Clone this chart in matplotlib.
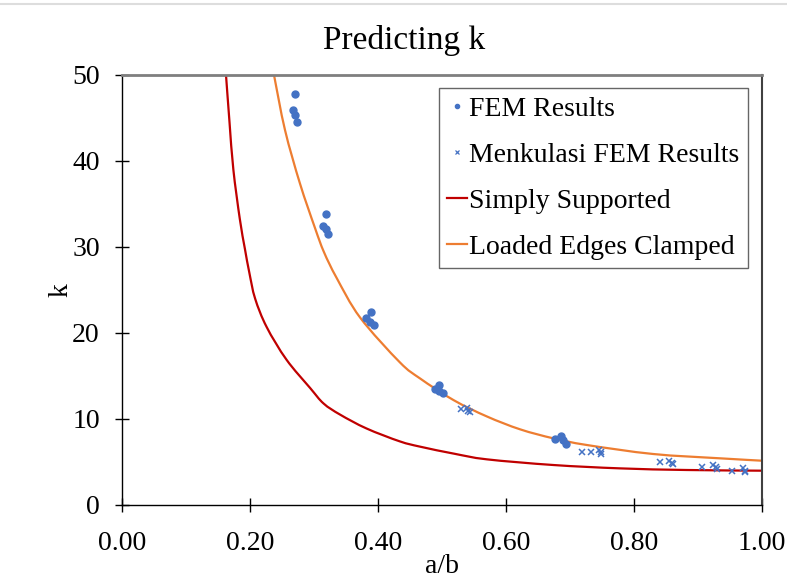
import matplotlib
matplotlib.use("Agg")
import matplotlib.pyplot as plt
from matplotlib.lines import Line2D
from matplotlib.path import Path
from matplotlib.patches import PathPatch

# ---- data ----
fem_ab = [0.271, 0.267, 0.271, 0.273,
          0.319, 0.314, 0.319, 0.322,
          0.3885, 0.382, 0.3875, 0.393,
          0.496, 0.489, 0.496, 0.501,
          0.6854, 0.6766, 0.6885, 0.694]
fem_k = [47.8, 45.9, 45.3, 44.5,
         33.8, 32.5, 32.1, 31.5,
         22.5, 21.7, 21.3, 20.9,
         13.9, 13.45, 13.2, 13.0,
         8.06, 7.67, 7.56, 7.09]

menk_ab = [0.529, 0.5396, 0.541, 0.543,
           0.7182, 0.7323, 0.7458, 0.748, 0.749,
           0.8406, 0.855, 0.859, 0.861,
           0.907, 0.924, 0.928, 0.930,
           0.9526, 0.9698, 0.9734, 0.974]
menk_k = [11.16, 11.24, 10.93, 10.8,
          6.12, 6.16, 6.4, 6.12, 5.93,
          4.96, 5.15, 4.88, 4.72,
          4.46, 4.65, 4.38, 4.23,
          3.99, 4.26, 3.99, 3.84]

ss_ab = [0.1625, 0.168, 0.174, 0.184, 0.192, 0.199, 0.208, 0.226, 0.257,
         0.294, 0.315, 0.341, 0.382, 0.434, 0.466, 0.520, 0.570, 0.674,
         0.778, 0.882, 1.0]
ss_k = [50.0, 44.5, 39.0, 33.3, 29.8, 27.0, 24.0, 20.7, 16.9,
        13.6, 11.8, 10.5, 8.9, 7.4, 6.78, 5.95, 5.31, 4.65,
        4.26, 4.07, 3.99]

cl_ab = [0.2375, 0.2547, 0.278, 0.3016, 0.3156, 0.3354, 0.372, 0.434,
         0.466, 0.518, 0.570, 0.622, 0.674, 0.726, 0.830, 0.934, 1.0]
cl_k = [50.0, 43.6, 37.4, 32.2, 29.4, 26.4, 21.8, 16.6,
        14.7, 12.2, 10.3, 8.8, 7.75, 6.98, 5.93, 5.43, 5.15]

xticks = [0.0, 0.2, 0.4, 0.6, 0.8, 1.0]
xtick_labels = ["0.00", "0.20", "0.40", "0.60", "0.80", "1.00"]
yticks = [0, 10, 20, 30, 40, 50]

BLUE = "#4472C4"
RED = "#C00000"
ORANGE = "#ED7D31"

plt.rcParams["font.family"] = ["Liberation Serif", "DejaVu Serif"]


def smooth_path(xs, ys):
    """Excel-style smoothed line: cubic Bezier segments through the points."""
    verts = [(xs[0], ys[0])]
    codes = [Path.MOVETO]
    n = len(xs)
    for i in range(n - 1):
        x0, y0 = (xs[i - 1], ys[i - 1]) if i > 0 else (xs[i], ys[i])
        x1, y1 = xs[i], ys[i]
        x2, y2 = xs[i + 1], ys[i + 1]
        x3, y3 = (xs[i + 2], ys[i + 2]) if i + 2 < n else (x2, y2)
        c1 = (x1 + (x2 - x0) / 6.0, y1 + (y2 - y0) / 6.0)
        c2 = (x2 - (x3 - x1) / 6.0, y2 - (y3 - y1) / 6.0)
        verts += [c1, c2, (x2, y2)]
        codes += [Path.CURVE4] * 3
    return Path(verts, codes)


fig = plt.figure(figsize=(7.87, 5.78), dpi=100)
ax = fig.add_axes([122 / 787, 1 - 505 / 578, 640 / 787, 430 / 578])

ax.add_patch(PathPatch(smooth_path(ss_ab, ss_k), fill=False, edgecolor=RED,
                       lw=1.6, zorder=2, transform=ax.transData))
ax.add_patch(PathPatch(smooth_path(cl_ab, cl_k), fill=False, edgecolor=ORANGE,
                       lw=1.6, zorder=2, transform=ax.transData))
ax.plot(fem_ab, fem_k, ls="none", marker="o", ms=5, color=BLUE,
        mec=BLUE, zorder=3)
ax.plot(menk_ab, menk_k, ls="none", marker="x", ms=5, mew=1.1, color=BLUE,
        zorder=3)

ax.set_xlim(0, 1)
ax.set_ylim(0, 50)
ax.set_xticks(xticks)
ax.set_xticklabels(xtick_labels)
ax.set_yticks(yticks)
ax.tick_params(axis="both", direction="inout", length=10, width=1,
               labelsize=20, color="black")
ax.tick_params(axis="x", pad=14)
ax.tick_params(axis="y", pad=11)

for s in ["left", "bottom"]:
    ax.spines[s].set_color("black")
    ax.spines[s].set_linewidth(1.0)
ax.spines["top"].set_color("#7f7f7f")
ax.spines["top"].set_linewidth(2.0)
ax.spines["right"].set_color("#404040")
ax.spines["right"].set_linewidth(1.5)

ax.set_xlabel("a/b", fontsize=20, labelpad=-2)
ax.set_ylabel("k", fontsize=20, labelpad=-1)

fig.text(404 / 787, 1 - 40 / 578, "Predicting k", ha="center", va="center",
         fontsize=24)

handles = [
    Line2D([], [], ls="none", marker="o", ms=3, color=BLUE),
    Line2D([], [], ls="none", marker="x", ms=3, mew=0.9, color=BLUE),
    Line2D([], [], color=RED, lw=1.6),
    Line2D([], [], color=ORANGE, lw=1.6),
]
labels = ["FEM Results", "Menkulasi FEM Results", "Simply Supported",
          "Loaded Edges Clamped"]
leg = ax.legend(handles, labels, loc="upper right",
                bbox_to_anchor=((748 - 122) / 640, 1 - 13 / 430),
                fontsize=20, frameon=True, fancybox=False, edgecolor="#404040",
                handlelength=0.7, handletextpad=0.1, labelspacing=0.74,
                borderpad=0.3, borderaxespad=0.0)
leg.get_frame().set_linewidth(1.0)

fig.add_artist(Line2D([0, 1], [1 - 4 / 578, 1 - 4 / 578], color="#dddddd", lw=1.5))

fig.savefig("out.png", dpi=100)
